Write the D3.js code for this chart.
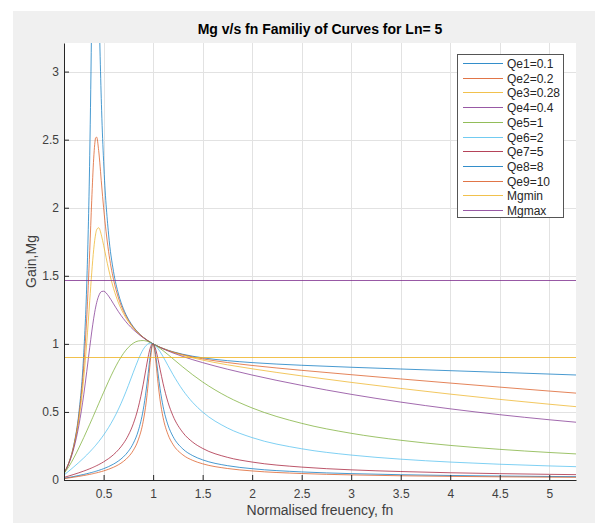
<!DOCTYPE html>
<html>
<head>
<meta charset="utf-8">
<script src="https://cdn.jsdelivr.net/npm/d3@7"></script>
<style>
  body { margin: 0; background: #fff; }
  svg { display: block; font-family: "Liberation Sans", Arial, sans-serif; }
</style>
</head>
<body>
<div id="chart"></div>
<script>
// normalised frequency samples
var fn = [0.1, 0.15, 0.2, 0.25, 0.3, 0.33, 0.36, 0.38, 0.39, 0.4,
          0.41, 0.42, 0.43, 0.45, 0.48, 0.5, 0.55, 0.6, 0.65, 0.7,
          0.75, 0.8, 0.85, 0.9, 0.93, 0.95, 0.97, 0.98, 0.99, 1,
          1.01, 1.02, 1.03, 1.05, 1.07, 1.1, 1.15, 1.2, 1.3, 1.4,
          1.5, 1.75, 2, 2.5, 3, 3.5, 4, 4.5, 5, 5.27];

// gain Mg for each Qe, same samples as fn
var qe1 = [.0531, .1296, .2611, .4914, .9379, 1.4462, 2.3820, 3.4312, 4.0664, 4.6324,
           4.9221, 4.8316, 4.4751, 3.6156, 2.7127, 2.3408, 1.8065, 1.5309, 1.3661, 1.2576,
           1.1814, 1.1253, 1.0825, 1.0490, 1.0321, 1.0220, 1.0127, 1.0083, 1.0041, 1,
           .9961, .9923, .9886, .9817, .9752, .9663, .9532, .9419, .9234, .9090,
           .8975, .8766, .8623, .8427, .8281, .8153, .8030, .7907, .7782, .7713];
var qe2 = [.0529, .1282, .2551, .4682, .8413, 1.1979, 1.6865, 2.0540, 2.2234, 2.3643,
           2.4634, 2.5142, 2.5179, 2.4202, 2.1667, 2.0000, 1.6791, 1.4731, 1.3368, 1.2420,
           1.1731, 1.1210, 1.0805, 1.0482, 1.0318, 1.0219, 1.0127, 1.0083, 1.0041, 1,
           .9961, .9923, .9886, .9816, .9750, .9658, .9521, .9402, .9201, .9038,
           .8900, .8629, .8414, .8057, .7735, .7424, .7120, .6823, .6534, .6382];
var qe3 = [.0526, .1265, .2481, .4427, .7524, 1.0118, 1.3175, 1.5220, 1.6142, 1.6946,
           1.7599, 1.8082, 1.8389, 1.8527, 1.7911, 1.7241, 1.5496, 1.4079, 1.3020, 1.2230,
           1.1627, 1.1156, 1.0779, 1.0472, 1.0313, 1.0216, 1.0126, 1.0083, 1.0041, 1,
           .9961, .9922, .9885, .9814, .9747, .9652, .9508, .9380, .9159, .8972,
           .8808, .8462, .8168, .7647, .7171, .6725, .6309, .5922, .5567, .5387];
var qe4 = [.0521, .1232, .2349, .4000, .6303, .7976, .9745, 1.0876, 1.1400, 1.1884,
           1.2320, 1.2704, 1.3031, 1.3513, 1.3848, 1.3868, 1.3513, 1.2939, 1.2363, 1.1852,
           1.1414, 1.1043, 1.0725, 1.0451, 1.0304, 1.0212, 1.0124, 1.0082, 1.0041, 1,
           .9960, .9922, .9884, .9810, .9740, .9638, .9481, .9335, .9072, .8836,
           .8621, .8139, .7709, .6951, .6293, .5722, .5227, .4798, .4425, .4244];
var qe5 = [.0471, .0992, .1633, .2353, .3124, .3605, .4095, .4426, .4593, .4761,
           .4928, .5097, .5265, .5603, .6108, .6442, .7257, .8024, .8713, .9294,
           .9743, 1.0050, 1.0212, 1.0244, 1.0208, 1.0165, 1.0108, 1.0075, 1.0039, 1,
           .9959, .9915, .9870, .9773, .9669, .9504, .9211, .8907, .8300, .7725,
           .7200, .6112, .5291, .4162, .3430, .2919, .2542, .2252, .2022, .1916];
var qe6 = [.0366, .0661, .0969, .1288, .1625, .1839, .2063, .2219, .2299, .2381,
           .2464, .2549, .2636, .2816, .3102, .3304, .3857, .4487, .5209, .6030,
           .6944, .7912, .8844, .9593, .9887, 1.0003, 1.0051, 1.0050, 1.0033, 1,
           .9953, .9892, .9820, .9642, .9430, .9067, .8408, .7753, .6598, .5692,
           .4992, .3823, .3113, .2294, .1831, .1530, .1317, .1158, .1034, .0978];
var qe7 = [.0189, .0299, .0412, .0530, .0658, .0740, .0827, .0888, .0920, .0952,
           .0986, .1020, .1055, .1128, .1246, .1332, .1571, .1862, .2222, .2683,
           .3293, .4135, .5332, .7032, .8259, .9051, .9677, .9880, .9990, 1,
           .9912, .9737, .9489, .8854, .8139, .7104, .5711, .4721, .3489, .2778,
           .2319, .1666, .1318, .0947, .0747, .0621, .0532, .0467, .0416, .0393];
var qe8 = [.0123, .0190, .0259, .0333, .0412, .0463, .0517, .0555, .0575, .0595,
           .0616, .0637, .0659, .0705, .0779, .0833, .0984, .1169, .1400, .1700,
           .2109, .2697, .3610, .5157, .6610, .7829, .9081, .9587, .9912, 1,
           .9838, .9466, .8956, .7791, .6704, .5421, .4038, .3206, .2282, .1788,
           .1480, .1053, .0830, .0594, .0468, .0389, .0333, .0292, .0260, .0246];
var qe9 = [.0099, .0152, .0208, .0266, .0330, .0370, .0414, .0444, .0460, .0476,
           .0493, .0510, .0528, .0564, .0624, .0666, .0788, .0936, .1122, .1365,
           .1697, .2180, .2948, .4317, .5727, .7052, .8619, .9338, .9842, 1,
           .9771, .9235, .8535, .7088, .5887, .4605, .3340, .2620, .1846, .1440,
           .1190, .0845, .0665, .0476, .0375, .0311, .0267, .0234, .0208, .0197];

var mgmin = 0.9;
var mgmax = 1.47;

var labels = ['Qe1=0.1', 'Qe2=0.2', 'Qe3=0.28', 'Qe4=0.4', 'Qe5=1', 'Qe6=2',
              'Qe7=5', 'Qe8=8', 'Qe9=10', 'Mgmin', 'Mgmax'];
var colors = ['#0072BD', '#D95319', '#EDB120', '#7E2F8E', '#77AC30', '#4DBEEE',
              '#A2142F', '#0072BD', '#D95319', '#EDB120', '#7E2F8E'];

var xTicks = [0.5, 1, 1.5, 2, 2.5, 3, 3.5, 4, 4.5, 5];
var yTicks = [0, 0.5, 1, 1.5, 2, 2.5, 3];

var w = 595, h = 523;
var pLeft = 64, pRight = 576, pTop = 43, pBottom = 480;

var svg = d3.select('#chart').append('svg')
    .attr('width', w)
    .attr('height', h);

// figure background
svg.append('rect').attr('x', 13).attr('y', 11)
    .attr('width', w - 13).attr('height', h - 11)
    .attr('fill', '#f0f0f0');
svg.append('rect').attr('x', pLeft).attr('y', pTop)
    .attr('width', pRight - pLeft).attr('height', pBottom - pTop)
    .attr('fill', '#fff');

var x = d3.scaleLinear().domain([0.1, 5.27]).range([pLeft, pRight]);
var y = d3.scaleLinear().domain([0, 3.21]).range([pBottom, pTop]);

// grid
var grid = svg.append('g').attr('stroke', '#e2e2e2').attr('stroke-width', 1);
grid.selectAll('.gx').data(xTicks).enter().append('line')
    .attr('x1', function(d) { return Math.round(x(d)) + 0.5; })
    .attr('x2', function(d) { return Math.round(x(d)) + 0.5; })
    .attr('y1', pTop).attr('y2', pBottom);
grid.selectAll('.gy').data(yTicks).enter().append('line')
    .attr('y1', function(d) { return Math.round(y(d)) + 0.5; })
    .attr('y2', function(d) { return Math.round(y(d)) + 0.5; })
    .attr('x1', pLeft).attr('x2', pRight);

svg.append('clipPath').attr('id', 'plotclip')
  .append('rect').attr('x', pLeft).attr('y', pTop)
    .attr('width', pRight - pLeft).attr('height', pBottom - pTop);

var plot = svg.append('g').attr('clip-path', 'url(#plotclip)');

var line = d3.line()
    .x(function(d, i) { return x(fn[i]); })
    .y(function(d) { return y(d); })
    .curve(d3.curveMonotoneX);

var series = [qe1, qe2, qe3, qe4, qe5, qe6, qe7, qe8, qe9];
series.forEach(function(s, i) {
  plot.append('path')
      .attr('d', line(s))
      .attr('fill', 'none')
      .attr('stroke', colors[i])
      .attr('stroke-opacity', 0.8)
      .attr('stroke-width', 0.9);
});

[mgmin, mgmax].forEach(function(v, i) {
  plot.append('line')
      .attr('x1', pLeft).attr('x2', pRight)
      .attr('y1', Math.round(y(v)) + 0.5).attr('y2', Math.round(y(v)) + 0.5)
      .attr('stroke', colors[9 + i])
      .attr('stroke-opacity', 0.8)
      .attr('stroke-width', 1);
});

// axes
var xAxis = d3.axisBottom(x).tickValues(xTicks)
    .tickSizeInner(-5).tickSizeOuter(0).tickPadding(9)
    .tickFormat(d3.format('~g'));
var yAxis = d3.axisLeft(y).tickValues(yTicks)
    .tickSizeInner(-5).tickSizeOuter(0).tickPadding(5)
    .tickFormat(d3.format('~g'));

var gx = svg.append('g').attr('transform', 'translate(0,' + pBottom + ')').call(xAxis);
var gy = svg.append('g').attr('transform', 'translate(' + pLeft + ',0)').call(yAxis);
[gx, gy].forEach(function(g) {
  g.select('.domain').attr('stroke', '#262626');
  g.selectAll('.tick line').attr('stroke', '#262626');
  g.selectAll('.tick text').attr('fill', '#404040')
      .style('font-size', '12px')
      .style('font-family', '"Liberation Sans", Arial, sans-serif');
});

// titles
svg.append('text').attr('x', (pLeft + pRight) / 2).attr('y', 34)
    .attr('text-anchor', 'middle')
    .style('font-size', '14px').style('font-weight', 'bold')
    .attr('fill', '#000')
    .text('Mg v/s fn Familiy of Curves for Ln= 5');
svg.append('text').attr('x', (pLeft + pRight) / 2).attr('y', 515)
    .attr('text-anchor', 'middle')
    .style('font-size', '14px')
    .attr('fill', '#404040')
    .text('Normalised freuency, fn');
svg.append('text')
    .attr('transform', 'translate(36,' + (pTop + pBottom) / 2 + ') rotate(-90)')
    .attr('text-anchor', 'middle')
    .style('font-size', '14px')
    .attr('fill', '#404040')
    .text('Gain,Mg');

// legend
var lg = svg.append('g');
lg.append('rect').attr('x', 457.5).attr('y', 54.5)
    .attr('width', 106).attr('height', 163)
    .attr('fill', '#fff').attr('stroke', '#555').attr('stroke-width', 1);
labels.forEach(function(t, i) {
  var cy = Math.round(63 + i * 14.7) + 0.5;
  lg.append('line').attr('x1', 463).attr('x2', 503)
      .attr('y1', cy).attr('y2', cy)
      .attr('stroke', colors[i]).attr('stroke-opacity', 0.8)
      .attr('stroke-width', 1);
  lg.append('text').attr('x', 507).attr('y', cy + 4.3)
      .style('font-size', '12px').attr('fill', '#262626')
      .text(t);
});
</script>
</body>
</html>
